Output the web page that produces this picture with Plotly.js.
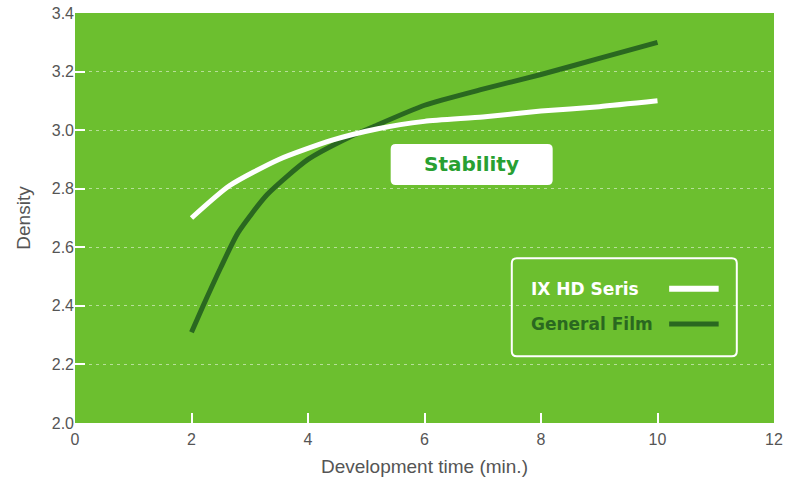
<!DOCTYPE html>
<html>
<head>
<meta charset="utf-8">
<script src="https://cdn.plot.ly/plotly-3.0.1.min.js"></script>
<style>
html,body{margin:0;padding:0;background:#fff;}
#chart{width:788px;height:484px;}
</style>
</head>
<body>
<div id="chart"></div>
<script>
// Data
const ixTime = [2, 2.65, 3.5, 4.4, 5.2, 6, 7, 8, 9, 10];
const ixDensity = [2.70, 2.81, 2.90, 2.965, 3.005, 3.03, 3.045, 3.065, 3.08, 3.10];
const genTime = [2, 2.2, 2.5, 2.8, 3.3, 4, 4.7, 5.1, 6, 7, 8, 9, 10];
const genDensity = [2.31, 2.40, 2.53, 2.65, 2.78, 2.90, 2.975, 3.01, 3.085, 3.14, 3.19, 3.245, 3.30];
const seriesNames = ['IX HD Seris', 'General Film'];
const xTicks = [0, 2, 4, 6, 8, 10, 12];
const yTicks = [2.0, 2.2, 2.4, 2.6, 2.8, 3.0, 3.2, 3.4];
const yTickText = ['2.0', '2.2', '2.4', '2.6', '2.8', '3.0', '3.2', '3.4'];

const GREEN = 'rgb(108,191,47)';
const DARK = 'rgb(42,104,32)';
const FONT = 'Liberation Sans, Arial, sans-serif';
const BOLD = 'DejaVu Sans, Liberation Sans, sans-serif';

const traces = [
  {x: genTime, y: genDensity, mode: 'lines', name: seriesNames[1],
   line: {color: DARK, width: 5, shape: 'spline', smoothing: 0.6}, showlegend: false},
  {x: ixTime, y: ixDensity, mode: 'lines', name: seriesNames[0],
   line: {color: '#ffffff', width: 5, shape: 'spline', smoothing: 0.6}, showlegend: false}
];

function roundRect(w, h, r) {
  const x0 = -w/2, x1 = w/2, y0 = -h/2, y1 = h/2;
  return `M ${x0+r} ${y0} L ${x1-r} ${y0} Q ${x1} ${y0} ${x1} ${y0+r} L ${x1} ${y1-r} Q ${x1} ${y1} ${x1-r} ${y1} L ${x0+r} ${y1} Q ${x0} ${y1} ${x0} ${y1-r} L ${x0} ${y0+r} Q ${x0} ${y0} ${x0+r} ${y0} Z`;
}

const shapes = [
  // Stability box
  {type: 'path', xref: 'x', yref: 'y', xsizemode: 'pixel', ysizemode: 'pixel',
   xanchor: 6.81, yanchor: 2.883, path: roundRect(162, 41, 5),
   fillcolor: '#ffffff', line: {width: 0}, layer: 'above'},
  // Legend box
  {type: 'path', xref: 'x', yref: 'y', xsizemode: 'pixel', ysizemode: 'pixel',
   xanchor: 9.43, yanchor: 2.395, path: roundRect(225, 98, 5),
   fillcolor: 'rgba(0,0,0,0)', line: {width: 2, color: '#ffffff'}, layer: 'above'},
  // Legend swatches
  {type: 'line', xref: 'x', yref: 'y', x0: 10.2, x1: 11.05, y0: 2.458, y1: 2.458,
   line: {color: '#ffffff', width: 6}, layer: 'above'},
  {type: 'line', xref: 'x', yref: 'y', x0: 10.2, x1: 11.05, y0: 2.338, y1: 2.338,
   line: {color: DARK, width: 5}, layer: 'above'}
];

const annotations = [
  {text: '<b>Stability</b>', x: 6.81, y: 2.883, xref: 'x', yref: 'y', showarrow: false,
   font: {family: BOLD, size: 20, color: 'rgb(40,160,50)'}},
  {text: '<b>' + seriesNames[0] + '</b>', x: 7.8, y: 2.458, xref: 'x', yref: 'y', showarrow: false,
   xanchor: 'left', font: {family: BOLD, size: 17, color: '#ffffff'}},
  {text: '<b>' + seriesNames[1] + '</b>', x: 7.8, y: 2.338, xref: 'x', yref: 'y', showarrow: false,
   xanchor: 'left', font: {family: BOLD, size: 17, color: DARK}}
];

const layout = {
  width: 788, height: 484,
  margin: {l: 75, r: 14, t: 13, b: 61, pad: 0},
  paper_bgcolor: '#ffffff',
  plot_bgcolor: GREEN,
  showlegend: false,
  font: {family: FONT, color: '#555', size: 16},
  xaxis: {
    range: [0, 12], tickvals: xTicks, ticktext: xTicks.map(String),
    showgrid: false, zeroline: false, showline: false,
    ticks: 'inside', ticklen: 10, tickwidth: 2, tickcolor: '#ffffff',
    ticklabelstandoff: 5,
    tickfont: {family: FONT, size: 16, color: '#555'},
    title: {text: 'Development time (min.)', font: {family: FONT, size: 19, color: '#555'}, standoff: 12},
    fixedrange: true
  },
  yaxis: {
    range: [2.0, 3.4], tickvals: yTicks, ticktext: yTickText,
    showgrid: true, gridcolor: 'rgba(255,255,255,0.5)', gridwidth: 1, griddash: '3px,4px',
    zeroline: false, showline: false,
    ticks: 'inside', ticklen: 10, tickwidth: 2, tickcolor: '#ffffff',
    tickfont: {family: FONT, size: 16, color: '#555'},
    title: {text: 'Density', font: {family: FONT, size: 19, color: '#555'}, standoff: 16},
    fixedrange: true
  },
  shapes: shapes,
  annotations: annotations
};

Plotly.newPlot('chart', traces, layout, {displayModeBar: false, staticPlot: true});
</script>
</body>
</html>
